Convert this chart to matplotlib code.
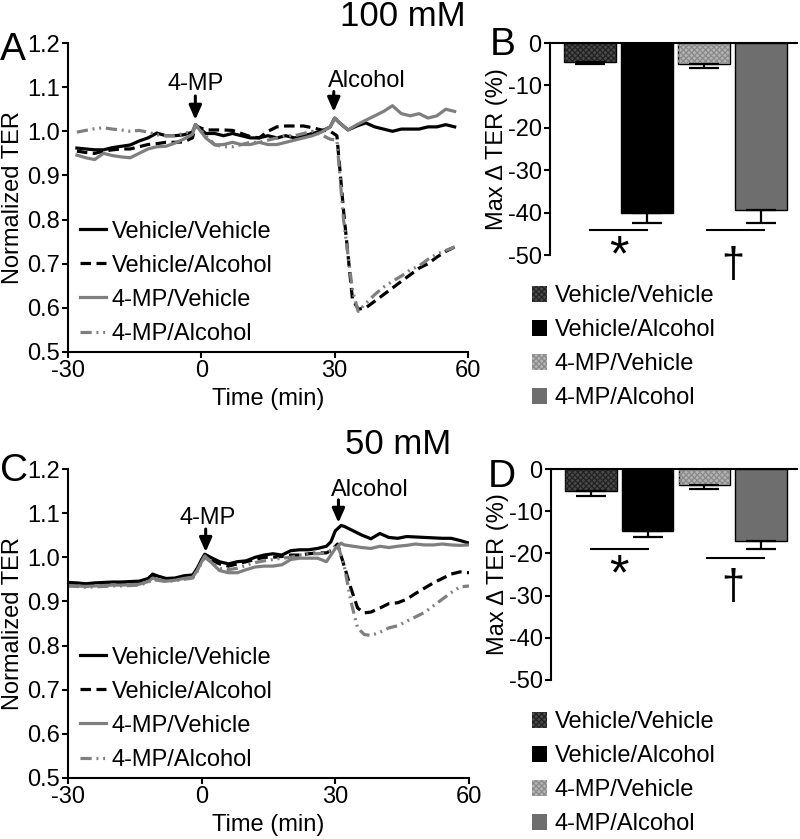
import matplotlib
matplotlib.use("Agg")
import matplotlib.pyplot as plt
import numpy as np
from matplotlib.patches import Patch

plt.rcParams['font.family'] = ['Liberation Sans', 'DejaVu Sans']
plt.rcParams['font.size'] = 17
plt.rcParams['axes.linewidth'] = 1.5
plt.rcParams['axes.unicode_minus'] = False
plt.rcParams['hatch.linewidth'] = 0.9

labels = ['Vehicle/Vehicle', 'Vehicle/Alcohol', '4-MP/Vehicle', '4-MP/Alcohol']

# ---- panel A (100 mM) time courses ----
tA = [-28, -26, -24, -22, -20, -18, -16, -14, -12, -10, -8, -6, -4, -2, -1.3, 1, 3, 5, 7, 9,
      11, 13, 15, 17, 19, 21, 23, 25, 27, 29, 30, 31, 33, 35, 37, 39, 41, 43, 45, 47,
      49, 51, 53, 55, 57]
a_vv = [0.962, 0.960, 0.958, 0.958, 0.963, 0.966, 0.969, 0.978, 0.985, 0.996, 0.990, 0.990,
        0.992, 0.998, 1.015, 0.995, 0.995, 0.990, 0.995, 0.990, 0.985, 0.985, 0.990, 0.985,
        0.990, 0.985, 0.990, 0.995, 1.000, 1.010, 1.030, 1.020, 1.003, 1.012, 1.019, 1.010,
        1.005, 1.000, 1.005, 1.005, 1.005, 1.010, 1.010, 1.015, 1.010]
tA_alc = [-28, -26, -24, -22, -20, -18, -16, -14, -12, -10, -8, -6, -4, -2, -1.3, 1, 3, 5, 7,
          9, 11, 13, 15, 17, 19, 21, 23, 25, 27, 29, 30.5, 32, 34, 35.3, 37, 39, 41, 43, 45,
          47, 49, 51, 53, 55, 57]
a_va = [0.955, 0.952, 0.950, 0.955, 0.958, 0.960, 0.960, 0.965, 0.970, 0.972, 0.975, 0.975,
        0.976, 0.985, 1.012, 1.003, 1.003, 1.003, 1.002, 0.995, 0.988, 0.985, 1.000, 1.010,
        1.012, 1.012, 1.012, 1.008, 1.003, 1.000, 0.990, 0.820, 0.620, 0.597, 0.600, 0.615,
        0.630, 0.645, 0.660, 0.675, 0.690, 0.700, 0.715, 0.728, 0.738]
a_mv = [0.946, 0.940, 0.936, 0.950, 0.945, 0.942, 0.940, 0.950, 0.960, 0.965, 0.966, 0.973,
        0.982, 0.993, 1.015, 0.985, 0.969, 0.970, 0.975, 0.970, 0.970, 0.975, 0.970, 0.970,
        0.975, 0.980, 0.985, 0.990, 0.998, 1.010, 1.030, 1.020, 1.003, 1.015, 1.025, 1.035,
        1.045, 1.058, 1.040, 1.035, 1.040, 1.030, 1.035, 1.050, 1.045]
a_ma = [0.998, 1.002, 1.006, 1.008, 1.005, 1.003, 1.000, 1.002, 0.998, 0.992, 0.990, 0.990,
        0.995, 1.000, 1.015, 0.990, 0.970, 0.965, 0.965, 0.970, 0.975, 0.975, 0.980, 0.985,
        0.990, 0.990, 0.995, 1.000, 0.992, 0.982, 0.980, 0.800, 0.640, 0.592, 0.610, 0.630,
        0.647, 0.660, 0.672, 0.686, 0.695, 0.710, 0.722, 0.730, 0.738]

# ---- panel C (50 mM) time courses ----
tC = [-30, -28, -26, -24, -22, -20, -18, -16, -14, -12, -11, -10, -8, -6, -4, -2, -1, 0, 0.7,
      2, 4, 6, 8, 10, 12, 14, 16, 18, 20, 22, 24, 26, 28, 29, 30, 31.3, 32, 34, 36, 38, 40,
      42, 44, 46, 48, 50, 52, 54, 56, 58, 60]
c_vv = [0.943, 0.942, 0.940, 0.942, 0.943, 0.944, 0.944, 0.945, 0.946, 0.952, 0.962, 0.958,
        0.952, 0.953, 0.958, 0.960, 0.975, 0.995, 1.007, 1.000, 0.990, 0.985, 0.990, 0.992,
        1.000, 1.005, 1.008, 1.005, 1.015, 1.017, 1.017, 1.020, 1.025, 1.035, 1.060, 1.072,
        1.070, 1.060, 1.050, 1.042, 1.054, 1.045, 1.043, 1.047, 1.046, 1.045, 1.044, 1.043,
        1.043, 1.038, 1.032]
tC_alc = [-30, -28, -26, -24, -22, -20, -18, -16, -14, -12, -11, -10, -8, -6, -4, -2, -1, 0,
          0.7, 2, 4, 6, 8, 10, 12, 14, 16, 18, 20, 22, 24, 26, 28, 29, 30.5, 32, 33.5, 35,
          36.5, 38, 40, 42, 44, 46, 48, 50, 52, 54, 56, 58, 60]
c_va = [0.940, 0.940, 0.938, 0.939, 0.940, 0.941, 0.941, 0.942, 0.943, 0.950, 0.958, 0.955,
        0.950, 0.952, 0.955, 0.958, 0.972, 0.992, 1.005, 0.995, 0.985, 0.980, 0.985, 0.990,
        0.995, 1.000, 1.000, 1.002, 1.005, 1.005, 1.008, 1.010, 1.010, 1.015, 1.030, 0.980,
        0.930, 0.885, 0.874, 0.876, 0.885, 0.895, 0.897, 0.905, 0.918, 0.930, 0.942, 0.952,
        0.962, 0.967, 0.965]
c_mv = [0.936, 0.935, 0.934, 0.935, 0.936, 0.937, 0.937, 0.938, 0.939, 0.945, 0.953, 0.950,
        0.946, 0.948, 0.952, 0.955, 0.970, 0.990, 1.003, 0.990, 0.970, 0.965, 0.965, 0.972,
        0.978, 0.980, 0.980, 0.983, 0.995, 0.998, 0.998, 0.998, 0.990, 1.005, 1.020, 1.032,
        1.028, 1.025, 1.022, 1.020, 1.025, 1.022, 1.025, 1.027, 1.030, 1.028, 1.028, 1.030,
        1.028, 1.027, 1.028]
c_ma = [0.935, 0.934, 0.932, 0.933, 0.934, 0.935, 0.935, 0.936, 0.937, 0.943, 0.950, 0.948,
        0.945, 0.947, 0.950, 0.953, 0.968, 0.988, 1.000, 0.990, 0.975, 0.972, 0.975, 0.982,
        0.988, 0.992, 0.995, 0.998, 1.000, 1.005, 1.008, 1.008, 1.010, 1.015, 1.030, 0.980,
        0.900, 0.840, 0.825, 0.823, 0.830, 0.840, 0.845, 0.855, 0.865, 0.875, 0.890, 0.905,
        0.920, 0.933, 0.935]

# ---- bar panels: max change in TER (%) ----
b_mean = [-4.5, -40.1, -4.9, -39.4]
b_err = [0.5, 2.4, 0.9, 3.1]
d_mean = [-5.2, -14.6, -3.9, -17.1]
d_err = [1.3, 1.4, 0.9, 1.9]

line_styles = [
    dict(color='black', ls='-'),
    dict(color='black', ls=(0, (3.3, 1.7))),
    dict(color='#7f7f7f', ls='-'),
    dict(color='#7f7f7f', ls=(0, (3.5, 1.5, 0.6, 1.5, 0.6, 1.5))),
]
bar_face = ['#4a4a4a', 'black', '#b4b4b4', '#6e6e6e']
bar_hatch = ['xxxxxx', None, 'xxxxxx', None]
hatch_col = ['#222222', None, '#8a8a8a', None]

fig = plt.figure(figsize=(8, 8.39), dpi=100)
W, H = 800.0, 839.0


def px_axes(left, right, top, bottom):
    return fig.add_axes([left / W, 1 - bottom / H, (right - left) / W, (bottom - top) / H])


def time_panel(ax, series, leg_top):
    for (t, y), st, lab in zip(series, line_styles, labels):
        ax.plot(t, y, lw=2.3, label=lab, **st)
    ax.set_xlim(-30, 60)
    ax.set_ylim(0.5, 1.2)
    ax.set_xticks([-30, 0, 30, 60])
    ax.set_yticks(np.arange(0.5, 1.21, 0.1))
    ax.set_yticklabels(['%.1f' % v for v in np.arange(0.5, 1.21, 0.1)])
    ax.spines['top'].set_visible(False)
    ax.spines['right'].set_visible(False)
    ax.tick_params(width=1.5, length=4, pad=2)
    ax.set_xlabel('Time (min)', labelpad=4)
    ax.set_ylabel('Normalized TER', labelpad=2)
    ax.legend(loc='upper left', bbox_to_anchor=(0.03, leg_top), frameon=False,
              borderpad=0, borderaxespad=0, handlelength=1.1, handletextpad=0.25,
              labelspacing=0.51, fontsize=17)


def arrow(ax, x, y_tip, y_tail, text, tx, ty):
    ax.annotate('', xy=(x, y_tip), xytext=(x, y_tail),
                arrowprops=dict(arrowstyle='-|>,head_width=0.22,head_length=0.5',
                                lw=2.2, color='black', shrinkA=0, shrinkB=0))
    ax.text(tx, ty, text, ha='center', va='center', fontsize=17)


def bar_panel(ax, means, errs, sig, leg_y):
    x = np.arange(len(means))
    handles = []
    for i in range(len(means)):
        ax.bar(x[i], means[i], width=0.91, color=bar_face[i], edgecolor='black', lw=1.0)
        if bar_hatch[i]:
            ax.bar(x[i], means[i], width=0.91, color='none', edgecolor=hatch_col[i],
                   hatch=bar_hatch[i], lw=0)
        handles.append(Patch(facecolor=bar_face[i], edgecolor=hatch_col[i] or bar_face[i],
                             hatch=bar_hatch[i], lw=0))
        ax.errorbar(x[i], means[i], yerr=[[errs[i]], [0]], fmt='none', ecolor='black',
                    elinewidth=1.6, capsize=11, capthick=1.6)
    ax.set_xlim(-0.7, 3.63)
    ax.set_ylim(-50, 0)
    ax.set_yticks([0, -10, -20, -30, -40, -50])
    ax.spines['bottom'].set_visible(False)
    ax.spines['right'].set_visible(False)
    ax.set_xticks([])
    ax.tick_params(axis='y', width=1.5, length=4, pad=2)
    ax.set_ylabel('Max \u0394 TER (%)', labelpad=0)
    # significance lines
    (y1, ys1), (y2, ys2) = sig
    ax.plot([0.0, 1.0], [y1, y1], color='black', lw=1.5, clip_on=False)
    ax.plot([2.05, 3.05], [y2, y2], color='black', lw=1.5, clip_on=False)
    ax.text(0.5, ys1, '*', ha='center', va='center', fontsize=36, clip_on=False)
    ax.text(2.5, ys2, '\u2020', ha='center', va='center', fontsize=30, clip_on=False)
    fig.legend(handles, labels, loc='upper left',
               bbox_to_anchor=(532 / W, leg_y), frameon=False, borderpad=0,
               borderaxespad=0, handlelength=0.65, handleheight=0.65, handletextpad=0.3,
               labelspacing=0.51, fontsize=17)


axA = px_axes(68, 468, 43, 352)
time_panel(axA, [(tA, a_vv), (tA_alc, a_va), (tA, a_mv), (tA_alc, a_ma)], 0.425)
arrow(axA, -1.35, 1.026, 1.08, '4-MP', -1.35, 1.107)
arrow(axA, 29.8, 1.044, 1.09, 'Alcohol', 37.2, 1.115)

axB = px_axes(550, 797, 43, 255)
bar_panel(axB, b_mean, b_err, ((-44.2, -50.5), (-44.1, -52.5)), 1 - 285 / H)

axC = px_axes(68, 469, 469, 778)
time_panel(axC, [(tC, c_vv), (tC_alc, c_va), (tC, c_mv), (tC_alc, c_ma)], 0.425)
arrow(axC, 0.9, 1.012, 1.064, '4-MP', 1.35, 1.09)
arrow(axC, 30.7, 1.078, 1.13, 'Alcohol', 37.7, 1.153)

axD = px_axes(551, 797, 469, 680)
bar_panel(axD, d_mean, d_err, ((-19.0, -25.4), (-21.1, -28.3)), 1 - 711 / H)

# panel letters and titles
for s, (x, y) in zip('ABCD', [(0, 50), (490, 45), (0, 471), (488, 477)]):
    fig.text(x / W, 1 - y / H, s, fontsize=28, ha='left', va='center')
fig.text(403 / W, 1 - 16 / H, '100 mM', fontsize=25, ha='center', va='center')
fig.text(398 / W, 1 - 444 / H, '50 mM', fontsize=25, ha='center', va='center')

fig.savefig('out.png', dpi=100)
